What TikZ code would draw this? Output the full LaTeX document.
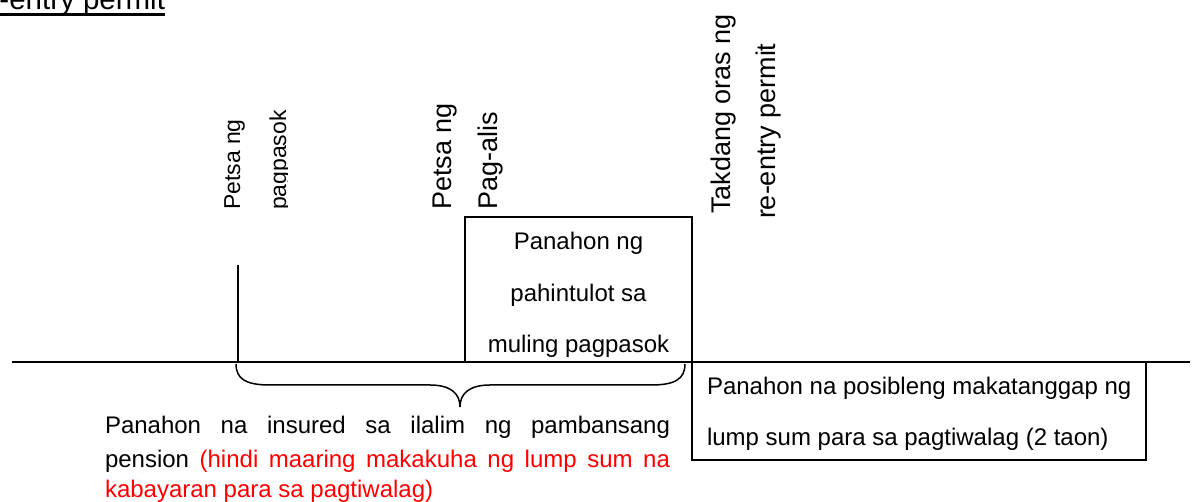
\documentclass[tikz,border=0pt]{standalone}
\usepackage{fontspec}
\setmainfont{Liberation Sans}
\newcommand{\fsN}{\fontsize{24}{28}\selectfont}
\newcommand{\fsS}{\fontsize{23}{27}\selectfont}
\newcommand{\fsL}{\fontsize{27}{31}\selectfont}
\newcommand{\fsT}{\fontsize{29.5}{33}\selectfont}
\begin{document}
\begin{tikzpicture}[x=1pt,y=1pt,
  txt/.style={inner sep=0pt, outer sep=0pt, anchor=base},
  vtxt/.style={inner sep=0pt, outer sep=0pt, anchor=base west, rotate=90},
  axisline/.style={line width=2.5pt},
  boxline/.style={line width=2pt},
  braceline/.style={line width=1.5pt}]
\useasboundingbox (0,0) rectangle (1192,501);
\clip (0,0) rectangle (1192,501);

% title (cut off at top)
\node[txt, anchor=base east, font=\fsT] (title) at (165,491) {-entry permit};
\coordinate (ulA) at (0,486.5);
\coordinate (ulB) at (165,486.5);
\draw[line width=3pt] (ulA) -- (ulB);

% main time line
\coordinate (axL) at (12,139);
\coordinate (axR) at (1190,139);
\draw[axisline] (axL) -- (axR);

% entry mark
\coordinate (entryTop) at (238,236);
\coordinate (entryBot) at (238,139);
\draw[boxline] (entryTop) -- (entryBot);

% re-entry permit box
\coordinate (pbSW) at (465,139);
\coordinate (pbNE) at (692,284);
\draw[boxline] (pbSW) |- (pbNE) -- (692,139);
\node[txt, font=\fsN] (pb1) at (578.5,251) {Panahon ng};
\node[txt, font=\fsN] (pb2) at (578.5,199.5) {pahintulot sa};
\node[txt, font=\fsN] (pb3) at (578.5,148) {muling pagpasok};

% lump sum box
\coordinate (lbNW) at (692,139);
\coordinate (lbSE) at (1146,41);
\draw[boxline] (lbNW) rectangle (lbSE);
\node[txt, anchor=base west, font=\fsN] (lb1) at (707,106) {Panahon na posibleng makatanggap ng};
\node[txt, anchor=base west, font=\fsN] (lb2) at (707,56) {lump sum para sa pagtiwalag (2 taon)};

% brace
\coordinate (brL) at (236,137);
\coordinate (brTip) at (460,94);
\coordinate (brR) at (685,137);
\draw[braceline] (brL) .. controls (236,122) and (246,116) .. (270,116)
  -- (430,116) .. controls (450,116) and (460,108) .. (brTip)
  .. controls (460,108) and (470,116) .. (490,116)
  -- (651,116) .. controls (675,116) and (685,122) .. (brR);

% insured period text
\node[txt, anchor=base west, font=\fsN] (in1) at (105,67)
  {\makebox[565pt][s]{Panahon na insured sa ilalim ng pambansang}};
\node[txt, anchor=base west, font=\fsN] (in2) at (105,34)
  {\makebox[565pt][s]{pension \textcolor{red}{(hindi maaring makakuha ng lump sum na}}};
\node[txt, anchor=base west, font=\fsN, text=red] (in3) at (105,4)
  {kabayaran para sa pagtiwalag)};

% vertical labels
\node[vtxt, font=\fsS] (pe1) at (240,291) {Petsa ng};
\begin{scope}
  \clip (260,250) rectangle (287.5,420);
  \node[vtxt, font=\fsS] (pe2) at (286,291) {pagpasok};
\end{scope}
\node[vtxt, font=\fsL] (pd1) at (451,291) {Petsa ng};
\node[vtxt, font=\fsL] (pd2) at (497,291) {Pag-alis};
\node[vtxt, font=\fsL] (tk1) at (730,287) {Takdang oras ng};
\node[vtxt, font=\fsL] (tk2) at (775,282) {re-entry permit};
\end{tikzpicture}
\end{document}
